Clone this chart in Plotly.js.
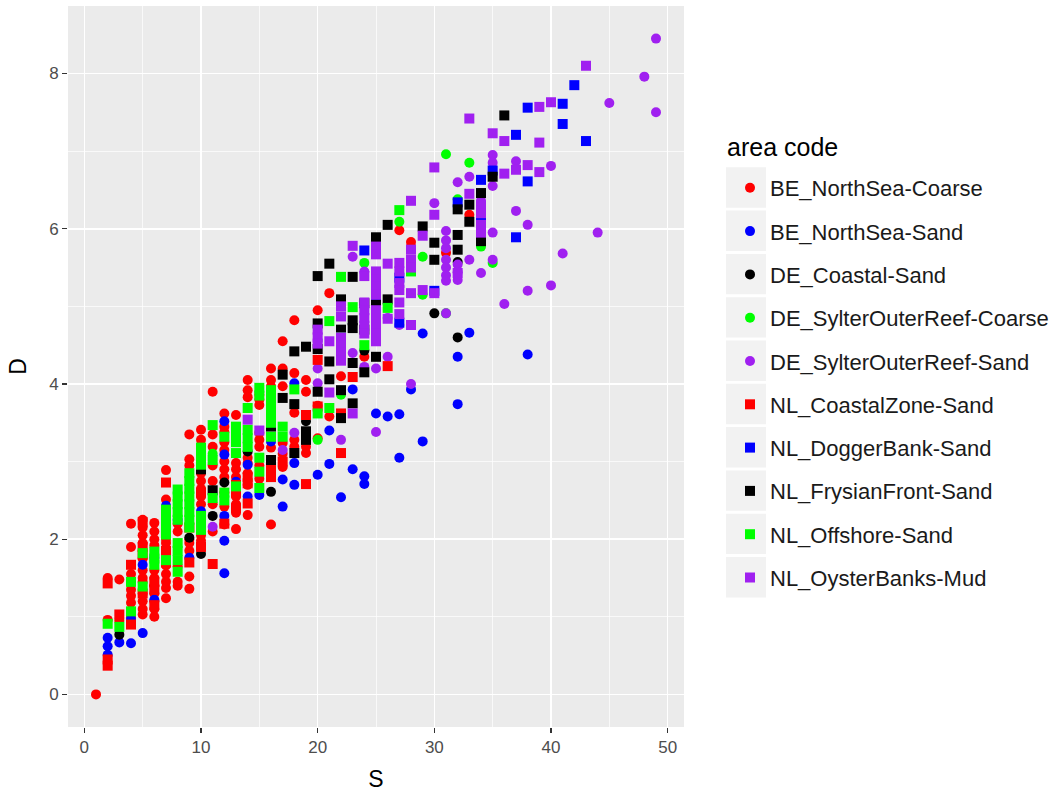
<!DOCTYPE html>
<html>
<head>
<meta charset="utf-8">
<script src="https://cdn.plot.ly/plotly-3.0.1.min.js"></script>
<style>html,body{margin:0;padding:0;background:#fff;}#chart{width:1056px;height:796px;}</style>
</head>
<body>
<div id="chart"></div>
<script>
// ---- data (S = richness, D = index) ----
const areaNames = ["BE_NorthSea-Coarse","BE_NorthSea-Sand","DE_Coastal-Sand","DE_SylterOuterReef-Coarse","DE_SylterOuterReef-Sand","NL_CoastalZone-Sand","NL_DoggerBank-Sand","NL_FrysianFront-Sand","NL_Offshore-Sand","NL_OysterBanks-Mud"];

const beCoarse = {1:[0.0],2:[1.5,0.96],3:[1.48,0.95],4:[2.2,1.9,1.55,1.35,1.27,1.18,1.0],
 5:[2.25,2.15,2.05,1.95,1.75,1.6,1.5,1.45,1.3,1.2,1.1,1.03],6:[2.21,2.1,2.0,1.92,1.6,1.5,1.4,1.3,1.2,1.1,1.0],
 7:[2.89,2.51,2.0,1.95,1.85,1.66,1.55,1.45,1.37,1.24],8:[2.2,2.1,1.65,1.45,1.4],9:[3.35,3.03,2.95,2.0,1.95,1.85,1.52,1.36],
 10:[3.41,3.28,2.85,2.75,2.65,2.55,2.45,2.05,1.98],11:[3.9,3.35,3.19,2.95,2.75,2.45,2.1],
 12:[3.62,3.45,3.38,3.25,3.15,3.0,2.9,2.8,2.6,2.42,2.19],13:[3.6,2.98,2.9,2.8,2.55,2.45,2.34,2.13],
 14:[4.05,3.92,3.83,3.05,2.98,2.85,2.7,2.31],15:[3.86,3.8,3.73,3.37,3.28,3.19,2.95,2.78],
 16:[4.2,4.05,3.97,3.85,3.18,2.85,2.19],17:[4.55,4.2,3.97,3.24,3.1,2.93],18:[4.82,4.14,3.63,3.28,3.19],
 19:[4.05,3.9,3.19,3.11],20:[4.95,3.72,3.3],21:[5.17,3.58],22:[4.1],24:[4.35],27:[5.98],28:[5.83,5.77],31:[5.69],33:[6.18]};
const beSand = {2:[0.73,0.62,0.51],3:[0.67],4:[0.97,0.66],5:[1.67,0.79],6:[1.76,1.22],7:[2.43],8:[2.25],9:[1.76],10:[2.36],
 12:[3.52,3.09,2.3,1.98,1.56],13:[2.74],14:[2.96,2.55],15:[2.57],16:[3.26],17:[2.77,2.42],18:[4.01,2.98,2.7],20:[2.83],
 21:[3.4,2.97],22:[2.54],23:[3.93,2.9],24:[2.81,2.71],25:[3.62],26:[3.58],27:[3.61,3.05],28:[3.93],29:[4.65,3.26],
 32:[4.35,3.74],33:[4.66],38:[4.38]};
const deCoastal = {3:[0.77],9:[2.02],10:[1.81],11:[2.3],12:[2.73],13:[3.33],14:[3.13],16:[2.61],19:[3.52],22:[3.9],24:[4.43],30:[4.91],32:[4.6,5.57]};
const deSylterCoarse = {11:[3.1],20:[3.28],22:[3.86],24:[5.56],27:[6.09],29:[5.64,5.15],31:[6.96,4.91],32:[6.38],33:[6.85],34:[5.77],35:[5.56]};
const deSylterSand = {11:[2.16],17:[3.15],18:[3.37],20:[4.2,4.01],22:[3.28],23:[4.4,5.64],24:[4.22,5.45],25:[4.2,3.38],26:[4.35,4.85],
 27:[4.76],28:[4.0],30:[6.33],31:[5.97,5.85,5.75,5.6,5.5,5.4,5.33,4.91],32:[6.6,5.54,5.44,5.34],33:[6.67,5.6],34:[5.43,6.36,6.25],
 35:[6.95,6.85,6.55,5.95,5.6],36:[5.03],37:[6.87,6.23],38:[6.05,5.2],40:[6.81,5.27],41:[5.68],44:[5.95],45:[7.62],48:[7.96],49:[8.45,7.5]};
const nlCoastal = {2:[1.43,0.45,0.37],3:[1.03],4:[1.67,0.9],5:[2.22,1.9,1.8,1.3],6:[1.45,1.35,1.15],7:[2.73,1.85,1.7],9:[2.15,1.7],
 10:[2.6,2.2,1.9],11:[1.68],12:[2.2],13:[2.7,2.6,2.4],14:[2.8,2.72,2.46],16:[2.9,2.8],17:[3.0],19:[3.6,3.28,2.71],20:[4.31,3.71],
 22:[3.62,3.11],23:[4.09],26:[4.23]};
const nlDogger = {24:[5.72],25:[5.08],27:[5.37,4.79],30:[5.2],32:[6.34],34:[6.63,6.14],35:[6.75],37:[7.21,5.89],38:[7.56,6.61],41:[7.61,7.35],42:[7.85],43:[7.13]};
const nlFrysian = {10:[2.9],11:[2.63],16:[3.45,3.02],17:[4.12,3.82],18:[4.42,3.74,3.11],19:[4.48,3.39,3.28],20:[5.39,4.78,4.45,3.9],
 21:[5.55,4.29,4.06],22:[5.09,4.7,3.92,3.56],23:[5.38,4.82,4.72,4.27,3.75],24:[5.04,4.7,4.15],25:[5.89,5.27,5.02,4.35],
 26:[6.05,5.09],29:[6.03],30:[5.82,5.6],32:[6.25,5.92,5.73],33:[6.31,6.09],34:[6.46,5.84],35:[6.67],36:[7.46]};
const nlOffshore = {2:[0.91],3:[0.87],4:[1.45,1.07],5:[1.82,1.39],6:[1.84,1.75,1.67],7:[2.38,2.28,2.18,2.06,1.73],
 8:[2.64,2.55,2.45,2.35,2.25,1.95,1.85,1.73,1.58],9:[2.85,2.75,2.65,2.55,2.45,2.35,2.25,2.15],10:[3.18,3.08,2.96,2.3,2.21,2.12],
 11:[3.47,3.02,2.53],12:[3.32,2.6,2.5],13:[3.45,3.35,3.25,3.11,2.68],14:[3.69,3.41,3.3,3.19],15:[3.95,3.85,3.05,2.87,2.66],
 16:[3.92,3.8,3.7,3.6,3.5,3.32],17:[3.45,3.32],18:[3.93],20:[3.62],21:[4.81,3.69],22:[5.38,4.6],23:[4.99],24:[4.5],26:[4.98],27:[6.24],28:[5.45]};
const nlOyster = {14:[3.54],15:[3.4],20:[4.7,4.6,4.52],21:[4.55,3.89],22:[5.0,4.87,4.6,4.5,4.4,4.3],23:[5.78,3.62],
 24:[5.39,5.05,4.95,4.85,4.75,4.65],25:[5.77,5.67,5.45,5.35,5.25,5.15,4.95,4.85,4.75,4.65,4.55],26:[5.55,4.84],
 27:[5.56,5.45,5.3,5.21,5.05,4.9],28:[6.36,5.73,5.6,5.5,5.17,4.76],29:[5.91,5.21],30:[6.79,6.18,5.17],32:[5.43],33:[7.42,6.45],
 34:[6.3,6.2,6.05,5.95],35:[7.23],36:[7.13,6.71],37:[6.76],38:[6.82],39:[7.57,7.11,6.73],40:[7.63],43:[8.1]};

const seriesData = [beCoarse,beSand,deCoastal,deSylterCoarse,deSylterSand,nlCoastal,nlDogger,nlFrysian,nlOffshore,nlOyster];
const seriesColors = ["#FF0000","#0000FF","#000000","#00FF00","#A020F0","#FF0000","#0000FF","#000000","#00FF00","#A020F0"];
const seriesSymbols = ["circle","circle","circle","circle","circle","square","square","square","square","square"];
const xTicks = [0,10,20,30,40,50];
const yTicks = [0,2,4,6,8];
const legendTitle = "area code";

// ---- build ----
function flatten(obj){const xs=[],ys=[];Object.keys(obj).forEach(k=>{obj[k].forEach(v=>{xs.push(+k);ys.push(v);});});return {xs,ys};}
const traces = seriesData.map((obj,i)=>{const f=flatten(obj);return {
  type:'scatter',mode:'markers',name:areaNames[i],x:f.xs,y:f.ys,legendgroup:'g'+i,
  marker:{color:seriesColors[i],symbol:seriesSymbols[i],size:10,line:{width:0}},hoverinfo:'x+y+name'};});

const W=1056,H=796, L=68, R=684, T=6, B=727;
const px2x = p => (p-L)/(R-L), py2y = p => (B-p)/(B-T);
const shapes=[];
for(let i=0;i<10;i++){
  const cy=187.5+i*43.3;
  shapes.push({type:'rect',xref:'paper',yref:'paper',x0:px2x(726),x1:px2x(766),y0:py2y(cy+20.2),y1:py2y(cy-20.2),
    fillcolor:'#F2F2F2',line:{width:0},layer:'below'});
}
const font='"Liberation Sans", Arial, sans-serif';
const layout={
  width:W,height:H,margin:{l:L,r:W-R,t:T,b:H-B},
  paper_bgcolor:'#FFFFFF',plot_bgcolor:'#EBEBEB',font:{family:font,color:'#000'},
  showlegend:true,
  xaxis:{range:[-1.4,51.4],tickvals:xTicks,ticktext:xTicks.map(String),ticks:'outside',ticklen:5,tickwidth:1.2,tickcolor:'#333333',
    tickfont:{size:17,color:'#4D4D4D',family:font},showgrid:true,gridcolor:'#FFFFFF',gridwidth:1.6,zeroline:false,showline:false,
    minor:{dtick:5,tick0:0,showgrid:true,gridcolor:'#FFFFFF',gridwidth:0.7,ticks:''},
    title:{text:'S',font:{size:23,color:'#000',family:font},standoff:14},fixedrange:true},
  yaxis:{range:[-0.42,8.87],tickvals:yTicks,ticktext:yTicks.map(String),ticks:'outside',ticklen:5,tickwidth:1.2,tickcolor:'#333333',
    tickfont:{size:17,color:'#4D4D4D',family:font},showgrid:true,gridcolor:'#FFFFFF',gridwidth:1.6,zeroline:false,showline:false,
    minor:{dtick:1,tick0:0,showgrid:true,gridcolor:'#FFFFFF',gridwidth:0.7,ticks:''},
    title:{text:'D',font:{size:23,color:'#000',family:font},standoff:16},fixedrange:true},
  legend:{xref:'container',yref:'container',x:730/W,y:1-167/H,xanchor:'left',yanchor:'top',maxheight:760,
    bgcolor:'rgba(0,0,0,0)',font:{size:22,color:'#1A1A1A',family:font},tracegroupgap:11.7,
    itemclick:false,itemdoubleclick:false},
  annotations:[{xref:'paper',yref:'paper',x:px2x(725),y:py2y(147),xanchor:'left',yanchor:'middle',showarrow:false,
    text:legendTitle,font:{size:25,color:'#000',family:font}}],
  shapes:shapes
};
Plotly.newPlot('chart',traces,layout,{displayModeBar:false,staticPlot:true});
</script>
</body>
</html>
